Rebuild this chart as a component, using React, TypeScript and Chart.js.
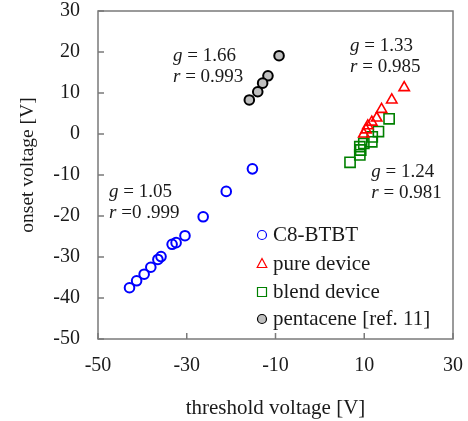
import React, { useEffect, useRef } from 'react';
import { Chart, registerables } from 'chart.js';

Chart.register(...registerables);

// ---- data ----
const c8X = [-15.2, -21.1, -26.3, -30.4, -32.4, -33.3, -35.8, -36.5, -38.1, -39.6, -41.3, -42.9];
const c8Y = [-8.5, -14.0, -20.2, -24.8, -26.5, -26.9, -29.9, -30.6, -32.5, -34.2, -35.8, -37.5];

const pureX = [19.0, 16.2, 13.9, 12.8, 11.7, 10.8, 10.4, 9.9];
const pureY = [11.3, 8.3, 6.0, 3.9, 2.9, 2.0, 1.0, 0.0];

const blendX = [15.6, 13.2, 11.8, 11.7, 9.9, 9.0, 9.2, 9.0, 6.8];
const blendY = [3.7, 0.6, -0.7, -1.9, -2.3, -3.1, -3.9, -5.1, -6.9];

const pentX = [-9.2, -11.7, -12.9, -14.0, -15.9];
const pentY = [19.1, 14.2, 12.4, 10.3, 8.3];

const seriesNames = ['C8-BTBT', 'pure device', 'blend device', 'pentacene [ref. 11]'];

const xTicks = [-50, -30, -10, 10, 30];
const yTicks = [-50, -40, -30, -20, -10, 0, 10, 20, 30];

const xTitle = 'threshold voltage [V]';
const yTitle = 'onset voltage [V]';

// fit annotations: slope g, correlation r, anchored at data coordinates
const fitG = ['1.05', '1.66', '1.33', '1.24'];
const fitR = ['=0 .999', '= 0.993', '= 0.985', '= 0.981'];
const fitAnchorX = [-47.5, -33.1, 6.8, 11.6];
const fitAnchorY = [-14.1, 19.0, 21.5, -9.3];

const FONT = "'Liberation Serif', 'Times New Roman', serif";

const toPts = (xs: number[], ys: number[]) => xs.map((x, i) => ({ x, y: ys[i] }));

const framePlugin = {
  id: 'frame',
  beforeDatasetsDraw(chart: any) {
    const { ctx, chartArea } = chart;
    const { left, right, top, bottom } = chartArea;
    const xs = chart.scales.x;
    const ys = chart.scales.y;
    ctx.save();
    ctx.strokeStyle = '#7a7a7a';
    ctx.lineWidth = 1.5;
    ctx.strokeRect(left, top, right - left, bottom - top);
    ctx.beginPath();
    xTicks.forEach((v) => {
      const px = xs.getPixelForValue(v);
      ctx.moveTo(px, bottom);
      ctx.lineTo(px, bottom - 6);
    });
    yTicks.forEach((v) => {
      const py = ys.getPixelForValue(v);
      ctx.moveTo(left, py);
      ctx.lineTo(left + 6, py);
    });
    ctx.stroke();
    // y axis title
    ctx.translate(28, 165);
    ctx.rotate(-Math.PI / 2);
    ctx.fillStyle = '#1a1a1a';
    ctx.font = `19.5px ${FONT}`;
    ctx.textAlign = 'center';
    ctx.textBaseline = 'middle';
    ctx.fillText(yTitle, 0, 0);
    ctx.restore();
  },
};

const textPlugin = {
  id: 'texts',
  afterDatasetsDraw(chart: any) {
    const { ctx } = chart;
    const xs = chart.scales.x;
    const ys = chart.scales.y;
    ctx.save();
    ctx.fillStyle = '#1a1a1a';
    ctx.textBaseline = 'middle';
    ctx.textAlign = 'left';
    // annotations
    fitG.forEach((g, i) => {
      const x = xs.getPixelForValue(fitAnchorX[i]);
      const y = ys.getPixelForValue(fitAnchorY[i]);
      const lines: [string, string][] = [['g', ' = ' + g], ['r', ' ' + fitR[i]]];
      lines.forEach(([it, rest], j) => {
        const yy = y + j * 21;
        ctx.font = `italic 19px ${FONT}`;
        ctx.fillText(it, x, yy);
        const w = ctx.measureText(it).width;
        ctx.font = `19px ${FONT}`;
        ctx.fillText(rest, x + w, yy);
      });
    });
    // legend
    const lx = 262;
    const rows = [235, 264, 292, 319];
    ctx.font = `21px ${FONT}`;
    chart.data.datasets.forEach((ds: any, i: number) => {
      const y = rows[i];
      ctx.lineWidth = 1.2;
      ctx.strokeStyle = ds.borderColor;
      ctx.fillStyle = ds.backgroundColor;
      ctx.beginPath();
      if (ds.pointStyle === 'circle') {
        ctx.arc(lx, y, 4.5, 0, Math.PI * 2);
      } else if (ds.pointStyle === 'triangle') {
        ctx.moveTo(lx, y - 5.5);
        ctx.lineTo(lx + 4.8, y + 3.5);
        ctx.lineTo(lx - 4.8, y + 3.5);
        ctx.closePath();
      } else {
        ctx.rect(lx - 4.5, y - 4.5, 9, 9);
      }
      ctx.fill();
      ctx.stroke();
      ctx.fillStyle = '#1a1a1a';
      ctx.fillText(seriesNames[i], lx + 11, y);
    });
    ctx.restore();
  },
};

export default function App() {
  const ref = useRef<HTMLCanvasElement | null>(null);
  useEffect(() => {
    if (!ref.current) return;
    const tickFont = { family: FONT, size: 20 };
    const titleFont = { family: FONT, size: 21 };
    const chart = new Chart(ref.current, {
      type: 'scatter',
      data: {
        datasets: [
          {
            label: seriesNames[0],
            data: toPts(c8X, c8Y),
            pointStyle: 'circle',
            pointRadius: 4.8,
            borderWidth: 2,
            borderColor: '#0000ff',
            backgroundColor: 'rgba(255,255,255,0)',
          },
          {
            label: seriesNames[1],
            data: toPts(pureX, pureY),
            pointStyle: 'triangle',
            pointRadius: 6,
            borderWidth: 1.6,
            borderColor: '#ff0000',
            backgroundColor: 'rgba(255,255,255,0)',
          },
          {
            label: seriesNames[2],
            data: toPts(blendX, blendY),
            pointStyle: 'rect',
            pointRadius: 7.2,
            borderWidth: 1.6,
            borderColor: '#008000',
            backgroundColor: 'rgba(255,255,255,0)',
          },
          {
            label: seriesNames[3],
            data: toPts(pentX, pentY),
            pointStyle: 'circle',
            pointRadius: 4.8,
            borderWidth: 2,
            borderColor: '#000000',
            backgroundColor: '#bfbfbf',
          },
        ],
      } as any,
      options: {
        responsive: false,
        animation: false,
        layout: { padding: { top: 11, right: 15, left: 0, bottom: 0 } },
        plugins: { legend: { display: false }, tooltip: { enabled: false } },
        scales: {
          x: {
            type: 'linear',
            min: -50,
            max: 30,
            afterBuildTicks: (s: any) => {
              s.ticks = xTicks.map((v) => ({ value: v }));
            },
            afterFit: (s: any) => {
              s.height = 82;
              s.paddingLeft = 0;
              s.paddingRight = 0;
              s.paddingTop = 0;
              s.paddingBottom = 0;
            },
            grid: { display: false, drawTicks: false },
            border: { display: false },
            ticks: { font: tickFont, color: '#1a1a1a', padding: 15 },
            title: {
              display: true,
              text: xTitle,
              font: titleFont,
              color: '#1a1a1a',
              padding: { top: 0, bottom: 0 },
            },
          },
          y: {
            type: 'linear',
            min: -50,
            max: 30,
            afterBuildTicks: (s: any) => {
              s.ticks = yTicks.map((v) => ({ value: v }));
            },
            afterFit: (s: any) => {
              s.width = 98;
              s.paddingLeft = 0;
              s.paddingRight = 0;
              s.paddingTop = 0;
              s.paddingBottom = 0;
            },
            grid: { display: false, drawTicks: false },
            border: { display: false },
            ticks: { font: tickFont, color: '#1a1a1a', padding: 18 },
            title: { display: false },
          },
        },
      } as any,
      plugins: [framePlugin, textPlugin],
    });
    return () => chart.destroy();
  }, []);
  return (
    <div style={{ position: 'absolute', left: 0, top: 0, width: 468, height: 421, background: '#fff' }}>
      <canvas ref={ref} width={468} height={421} />
    </div>
  );
}
